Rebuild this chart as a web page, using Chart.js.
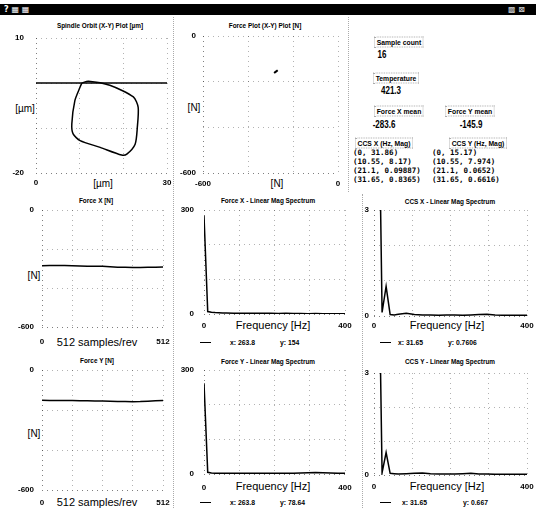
<!DOCTYPE html>
<html>
<head>
<meta charset="utf-8">
<script src="https://cdn.jsdelivr.net/npm/chart.js@4/dist/chart.umd.min.js"></script>
<style>
  body { margin: 0; background: #fff; }
  #panel { position: relative; width: 536px; height: 508px; overflow: hidden; background: #fff; font-family: "Liberation Sans", Arial, sans-serif; color: #000; }
  #panel canvas { position: absolute; }
  .c { position: absolute; white-space: nowrap; transform: translate(-50%, -50%); }
  .t { font-weight: bold; font-size: 8px; transform: translate(-50%, -50%) scaleX(0.8); }
  .ax { font-size: 10px; }
  .big { font-size: 11px; }
  .lg { font-weight: bold; font-size: 8px; transform: translate(0, -50%) scaleX(0.85); transform-origin: left center; }
  .lbl { font-weight: bold; font-size: 8px; transform: translate(-50%, -50%) scaleX(0.85); border: 1px dotted #aaa; padding: 0 2px; }
  .val { font-weight: bold; font-size: 10px; transform: translate(-50%, -50%) scaleX(0.8); }
  .mono { position: absolute; font: bold 7.5px "DejaVu Sans Mono", monospace; line-height: 9px; white-space: pre; }
  .sep { position: absolute; border-left: 1px dotted #aaa; width: 0; }
  .lline { position: absolute; height: 0; border-top: 1.5px solid #000; width: 11px; }
  #bar { position: absolute; left: 0; top: 4px; width: 536px; height: 11px; background: #000; color: #fff; font: bold 8px "DejaVu Sans", sans-serif; line-height: 11px; }
</style>
</head>
<body>
<div id="panel">
  <div id="bar"><span style="position:absolute;left:4px">?&nbsp;▦&nbsp;▦</span><span style="position:absolute;left:508px;color:#ccc">▩&nbsp;⊠</span></div>

  <div class="sep" style="left:173px;top:17px;height:491px"></div>
  <div class="sep" style="left:348px;top:17px;height:175px"></div>
  <div class="sep" style="left:362px;top:194px;height:314px"></div>

  <!-- chart titles -->
  <div class="c t" style="left:100px;top:25px">Spindle Orbit (X-Y) Plot [µm]</div>
  <div class="c t" style="left:265px;top:25px">Force Plot (X-Y) Plot [N]</div>
  <div class="c t" style="left:96px;top:200px">Force X [N]</div>
  <div class="c t" style="left:268px;top:200px">Force X - Linear Mag Spectrum</div>
  <div class="c t" style="left:450px;top:201px">CCS X - Linear Mag Spectrum</div>
  <div class="c t" style="left:97px;top:360px">Force Y [N]</div>
  <div class="c t" style="left:268px;top:361px">Force Y - Linear Mag Spectrum</div>
  <div class="c t" style="left:450px;top:361px">CCS Y - Linear Mag Spectrum</div>

  <!-- axis names -->
  <div class="c ax" style="left:25px;top:108px">[µm]</div>
  <div class="c ax" style="left:103px;top:183px">[µm]</div>
  <div class="c ax" style="left:194px;top:107px">[N]</div>
  <div class="c ax" style="left:277px;top:183px">[N]</div>
  <div class="c ax" style="left:34px;top:275px">[N]</div>
  <div class="c big" style="left:97px;top:342px">512 samples/rev</div>
  <div class="c big" style="left:273px;top:325px">Frequency [Hz]</div>
  <div class="c big" style="left:447px;top:325px">Frequency [Hz]</div>
  <div class="c ax" style="left:34px;top:433px">[N]</div>
  <div class="c big" style="left:97px;top:502px">512 samples/rev</div>
  <div class="c big" style="left:273px;top:486px">Frequency [Hz]</div>
  <div class="c big" style="left:447px;top:486px">Frequency [Hz]</div>

  <!-- cursor legends -->
  <div class="lline" style="left:200px;top:342px"></div>
  <div class="c lg" style="left:230px;top:342px">x: 263.8</div>
  <div class="c lg" style="left:280px;top:342px">y: 154</div>
  <div class="lline" style="left:380px;top:342px"></div>
  <div class="c lg" style="left:398px;top:342px">x: 31.65</div>
  <div class="c lg" style="left:448px;top:342px">y: 0.7606</div>
  <div class="lline" style="left:200px;top:502px"></div>
  <div class="c lg" style="left:230px;top:502px">x: 263.8</div>
  <div class="c lg" style="left:280px;top:502px">y: 78.64</div>
  <div class="lline" style="left:380px;top:502px"></div>
  <div class="c lg" style="left:402px;top:502px">x: 31.65</div>
  <div class="c lg" style="left:463px;top:502px">y: 0.667</div>

  <!-- indicators -->
  <div class="c lbl" style="left:399px;top:42px">Sample count</div>
  <div class="c val" style="left:382px;top:54px">16</div>
  <div class="c lbl" style="left:396px;top:78px">Temperature</div>
  <div class="c val" style="left:391px;top:90px">421.3</div>
  <div class="c lbl" style="left:399px;top:111px">Force X mean</div>
  <div class="c val" style="left:384px;top:124px">-283.6</div>
  <div class="c lbl" style="left:470px;top:111px">Force Y mean</div>
  <div class="c val" style="left:471px;top:124px">-145.9</div>
  <div class="c lbl" style="left:384px;top:143px">CCS X (Hz, Mag)</div>
  <div class="c lbl" style="left:478px;top:143px">CCS Y (Hz, Mag)</div>
  <div class="mono" id="ccsx" style="left:353px;top:148px"></div>
  <div class="mono" id="ccsy" style="left:432px;top:148px"></div>
</div>

<script>
// Spindle orbit (X-Y) in µm
const orbitX = [10.5, 12.0, 16.9, 22.3, 23.4, 23.2, 22.7, 20.8, 19.6, 14.7, 10.1, 8.5, 8.2, 8.9, 10.1, 10.5];
const orbitY = [0.0, 0.4, -0.5, -3.1, -5.4, -9.9, -13.6, -15.8, -16.0, -14.3, -12.8, -11.3, -9.1, -3.9, -0.9, 0.0];
const orbitRefX = [0, 30];
const orbitRefY = [0, 0];

// Force X-Y plot in N
const forceXYx = [-284, -276, -268];
const forceXYy = [-162, -156, -150];

// Force waveforms, 512 samples/rev
const sampleIdx = [0, 32, 64, 96, 128, 160, 192, 224, 256, 288, 320, 352, 384, 416, 448, 480, 512];
const forceXWave = [-286, -285, -284, -285, -286, -287, -288, -288, -289, -291, -293, -294, -295, -295, -294, -293, -292];
const forceYWave = [-151, -152, -152, -153, -153, -154, -154, -155, -155, -156, -157, -158, -159, -158, -156, -154, -153];

// Linear magnitude spectra
const specFreq = [0, 10.55, 21.1, 31.65, 42.2, 52.75, 63.3, 84.4, 105.5, 126.6, 147.7, 168.8, 189.9, 211, 232.1, 253.2, 274.3, 295.4, 316.5, 337.6, 358.7, 379.8, 400.9];
const forceXSpec = [283.6, 7, 5, 4, 3.5, 3, 3, 2.5, 2.5, 2, 2.5, 2, 2, 1.5, 2, 1.5, 1.5, 1, 1.5, 1, 1, 1, 1];
const forceYSpec = [262, 5, 3, 2.5, 2, 2, 2, 2, 2, 2, 2, 2, 2, 2, 2.5, 2.5, 3, 3.5, 4, 3.5, 3, 2, 2];
const ccsXSpec = [31.86, 8.17, 0.09887, 0.8365, 0.04, 0.03, 0.05, 0.08, 0.04, 0.03, 0.03, 0.02, 0.03, 0.03, 0.02, 0.03, 0.04, 0.05, 0.03, 0.02, 0.02, 0.02, 0.02];
const ccsYSpec = [15.17, 7.974, 0.0652, 0.6616, 0.05, 0.04, 0.03, 0.04, 0.05, 0.06, 0.04, 0.03, 0.03, 0.03, 0.04, 0.05, 0.03, 0.03, 0.02, 0.02, 0.02, 0.02, 0.02];

// CCS peak lists shown in the text panel
const ccsXList = ['(0, 31.86)', '(10.55, 8.17)', '(21.1, 0.09887)', '(31.65, 0.8365)'];
const ccsYList = ['(0, 15.17)', '(10.55, 7.974)', '(21.1, 0.0652)', '(31.65, 0.6616)'];

document.getElementById('ccsx').textContent = ccsXList.join('\n');
document.getElementById('ccsy').textContent = ccsYList.join('\n');

Chart.defaults.font.family = '"Liberation Sans", Arial, sans-serif';
Chart.defaults.font.size = 8;
Chart.defaults.color = '#000';

function pts(xs, ys) {
    return xs.map((x, i) => ({ x: x, y: ys[i] }));
}

function series(xs, ys, width, tension) {
    return {
        data: pts(xs, ys),
        showLine: true,
        borderColor: '#000',
        borderWidth: width || 1.5,
        pointRadius: 0,
        tension: tension || 0
    };
}

function axis(r, pad, fit) {
    return {
        type: 'linear',
        min: r.min,
        max: r.max,
        afterFit: fit,
        border: { display: false, dash: [1, 4] },
        grid: {
            drawTicks: false,
            // frame edges a bit darker than the inner grid
            color: c => (c.index === 0 || c.value === r.max) ? 'rgba(0,0,0,0.5)' : 'rgba(0,0,0,0.3)'
        },
        ticks: {
            stepSize: r.step,
            padding: pad,
            autoSkip: false,
            maxRotation: 0,
            font: { size: 8, weight: 'bold' },
            // only the end values are labelled
            callback: (v, i, t) => (i === 0 || i === t.length - 1) ? v : ''
        }
    };
}

// area = plot rectangle in page pixels plus room for tick labels
function plot(area, xr, yr, datasets) {
    // chart.js reserves label half-height + tick padding above the plot
    const padT = area.yPad + 6, padR = area.xPad + 9;
    const c = document.createElement('canvas');
    c.width = area.yW + (area.R - area.L) + padR;
    c.height = padT + (area.B - area.T) + area.xH;
    c.style.left = (area.L - area.yW) + 'px';
    c.style.top = (area.T - padT) + 'px';
    document.getElementById('panel').appendChild(c);
    return new Chart(c, {
        type: 'scatter',
        data: { datasets: datasets },
        options: {
            responsive: false,
            animation: false,
            devicePixelRatio: 1,
            layout: { padding: { top: padT, right: padR, left: 0, bottom: 0 } },
            plugins: { legend: { display: false }, tooltip: { enabled: false } },
            scales: {
                x: axis(xr, area.xPad, s => { s.height = area.xH; }),
                y: axis(yr, area.yPad, s => { s.width = area.yW; })
            }
        }
    });
}

const spanX = { min: 0, max: 400, step: 100 };

plot({ L: 36, R: 167, T: 38, B: 173, yW: 36, xH: 20, yPad: 12, xPad: 5 },
    { min: 0, max: 30, step: 10 }, { min: -20, max: 10, step: 10 },
    [series(orbitRefX, orbitRefY, 1.5), series(orbitX, orbitY, 1.5, 0.25)]);

plot({ L: 203, R: 338, T: 36, B: 173, yW: 30, xH: 20, yPad: 7, xPad: 6 },
    { min: -600, max: 0, step: 200 }, { min: -600, max: 0, step: 200 },
    [series(forceXYx, forceXYy, 2)]);

plot({ L: 42, R: 163, T: 210, B: 327, yW: 42, xH: 22, yPad: 8, xPad: 10 },
    { min: 0, max: 512, step: 128 }, { min: -600, max: 0, step: 200 },
    [series(sampleIdx, forceXWave, 1.5)]);

plot({ L: 204, R: 345, T: 210, B: 314, yW: 30, xH: 20, yPad: 10, xPad: 7 },
    spanX, { min: 0, max: 300, step: 100 },
    [series(specFreq, forceXSpec, 1.5)]);

plot({ L: 374, R: 527, T: 210, B: 316, yW: 16, xH: 20, yPad: 5, xPad: 5 },
    spanX, { min: 0, max: 3, step: 1 },
    [series(specFreq, ccsXSpec, 1.5)]);

plot({ L: 42, R: 163, T: 370, B: 490, yW: 42, xH: 18, yPad: 8, xPad: 8 },
    { min: 0, max: 512, step: 128 }, { min: -600, max: 0, step: 200 },
    [series(sampleIdx, forceYWave, 1.5)]);

plot({ L: 204, R: 345, T: 370, B: 474, yW: 30, xH: 20, yPad: 10, xPad: 9 },
    spanX, { min: 0, max: 300, step: 100 },
    [series(specFreq, forceYSpec, 1.5)]);

plot({ L: 374, R: 527, T: 373, B: 475, yW: 16, xH: 20, yPad: 5, xPad: 7 },
    spanX, { min: 0, max: 3, step: 1 },
    [series(specFreq, ccsYSpec, 1.5)]);
</script>
</body>
</html>
